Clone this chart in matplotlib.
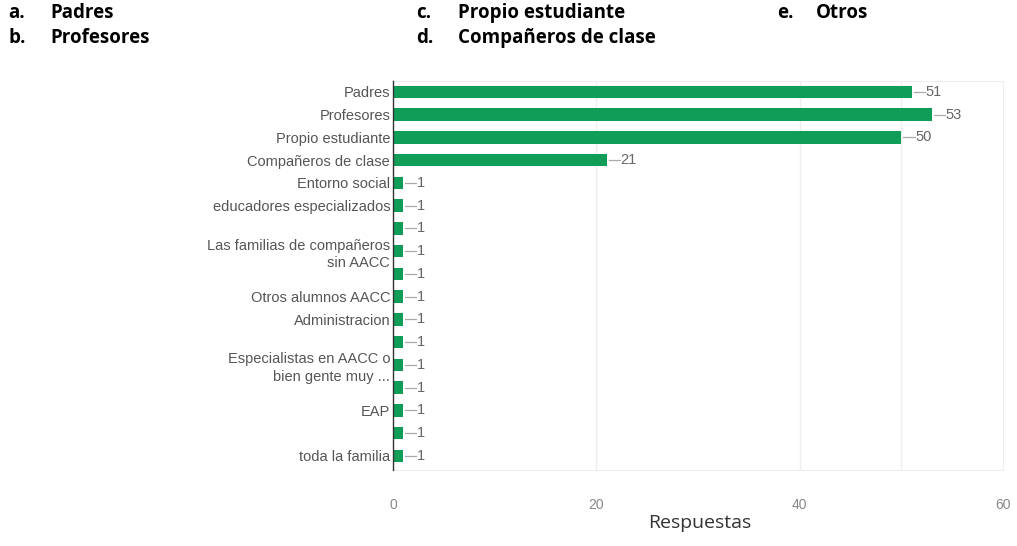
import numpy as np
import matplotlib
matplotlib.use("Agg")
from matplotlib import pyplot as plt

# respuestas por fila, de arriba abajo
categorias = ["Padres", "Profesores", "Propio estudiante", "Compañeros de clase",
              "Entorno social", "educadores especializados", "", "Las familias de compañeros\nsin AACC", "",
              "Otros alumnos AACC", "Administracion", "", "Especialistas en AACC o\nbien gente muy ...", "",
              "EAP", "", "toda la familia"]
respuestas = [51, 53, 50, 21, 1, 1, 1, 1, 1, 1, 1, 1, 1, 1, 1, 1, 1]
ticks_x = [0, 20, 40, 60]
lineas_grid = [20, 40, 50]

cabecera_izq = [("a.", "Padres"), ("b.", "Profesores")]
cabecera_med = [("c.", "Propio estudiante"), ("d.", "Compañeros de clase")]
cabecera_der = [("e.", "Otros")]

verde = "#0f9d58"
gris_txt = "#555555"

fig = plt.figure(figsize=(10.17, 5.46), dpi=100)
ax = fig.add_axes([393 / 1017, 76 / 546, 610 / 1017, 389 / 546])

y = np.arange(len(respuestas))
ax.barh(y, respuestas, height=0.55, color=verde, zorder=3)

# etiquetas de valor con su pequeña linea guia
for yi, v in zip(y, respuestas):
    ax.plot([v + 0.2, v + 1.3], [yi, yi], color="#aaaaaa", lw=0.9, zorder=4)
    ax.text(v + 1.35, yi, str(v), va="center", ha="left", fontsize=10.5,
            color="#666666", family="Liberation Sans")

ax.set_xlim(0, 60)
ax.set_ylim(16.62, -0.48)
ax.set_yticks(y)
ax.set_yticklabels(categorias, fontsize=10.5, color=gris_txt, family="Liberation Sans",
                   linespacing=1.3)
ax.set_xticks(ticks_x)
ax.set_xticklabels([str(t) for t in ticks_x], fontsize=10, color="#888888",
                   family="Liberation Sans")
ax.tick_params(axis="y", length=0, pad=2)
ax.tick_params(axis="x", length=0, pad=20)

for g in lineas_grid:
    ax.axvline(g, color="#eeeeee", lw=1, zorder=1)

for s in ["top", "right", "bottom"]:
    ax.spines[s].set_color("#eeeeee")
ax.spines["left"].set_color("#333333")
ax.spines["left"].set_linewidth(1)
ax.spines["left"].set_zorder(5)

fig.text(700 / 1017, 1 - 523 / 546, "Respuestas", ha="center", va="center",
         fontsize=14, color="#333333", family="Open Sans")

# cabecera con las opciones
def cabecera(items, x_letra, x_texto):
    for i, (letra, texto) in enumerate(items):
        yy = 1 - (13 + 25 * i) / 546
        fig.text(x_letra / 1017, yy, letra, ha="left", va="center", fontsize=13.5,
                 fontweight="bold", family="Open Sans", color="black")
        fig.text(x_texto / 1017, yy, texto, ha="left", va="center", fontsize=13.5,
                 fontweight="bold", family="Open Sans", color="black")

cabecera(cabecera_izq, 8, 50)
cabecera(cabecera_med, 416, 458)
cabecera(cabecera_der, 777, 816)

fig.savefig("out.png", dpi=100)
